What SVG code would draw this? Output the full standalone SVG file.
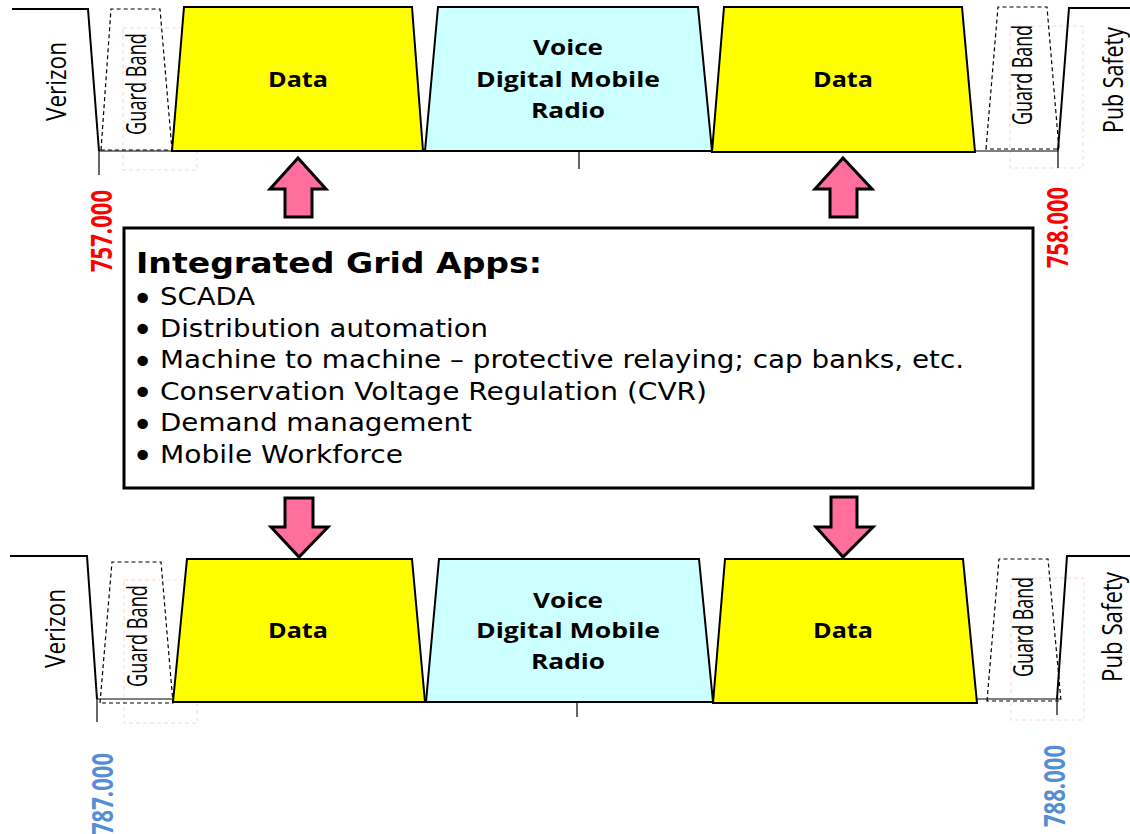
<svg xmlns="http://www.w3.org/2000/svg" width="1130" height="834" viewBox="0 0 1130 834">
<style>
.band{stroke:#000;stroke-width:2;stroke-linejoin:miter}
.data{fill:#ffff00}
.voice{fill:#ccffff}
.edge{fill:none;stroke:#000;stroke-width:2}
.thin{fill:none;stroke:#000;stroke-width:1.2}
.guard{fill:none;stroke:#000;stroke-width:1.2;stroke-dasharray:4 3}
.faint{fill:none;stroke:#fbd9c8;stroke-width:1;stroke-dasharray:4 3}
.lbl{font-family:"Open Sans","Liberation Sans",sans-serif;font-weight:bold;font-size:21px;fill:#000;text-anchor:middle}
.vert{font-family:"Open Sans","Liberation Sans",sans-serif;font-size:28px;fill:#000;text-anchor:middle}
.freq{font-family:"Open Sans","Liberation Sans",sans-serif;font-weight:bold;font-size:29px;text-anchor:middle}
.red{fill:#ff0000}
.blue{fill:#558ed5}
.arrow{fill:#ff6e9c;stroke:#000;stroke-width:3;stroke-linejoin:miter}
.title{font-family:"DejaVu Sans","Liberation Sans",sans-serif;font-weight:bold;font-size:29px;fill:#000}
.item{font-family:"DejaVu Sans","Liberation Sans",sans-serif;font-size:24.5px;fill:#000}
.bul{font-size:36px}
</style>

<g id="top-row">
  <g id="top-verizon">
    <polyline class="edge" points="12,9 88,9 99,151"/>
    <line class="thin" x1="99" y1="151" x2="99" y2="175"/>
    <text class="vert" transform="translate(66,81.5) rotate(-90)" textLength="79" lengthAdjust="spacingAndGlyphs">Verizon</text>
  </g>
  <g id="top-guard-left">
    <rect class="faint" x="123" y="28" width="74" height="142"/>
    <polygon class="guard" points="101,150 111,9 160,9 172,150"/>
    <line class="thin" x1="99" y1="151" x2="173" y2="151"/>
    <text class="vert" transform="translate(146,84) rotate(-90)" textLength="102" lengthAdjust="spacingAndGlyphs" style="font-size:27px">Guard Band</text>
  </g>
  <g id="top-data-1">
    <polygon class="band data" points="184,7 412,7 423,151 172,151"/>
    <text class="lbl" x="298" y="87" textLength="60" lengthAdjust="spacingAndGlyphs">Data</text>
  </g>
  <g id="top-voice">
    <polygon class="band voice" points="438,7 698,7 712,151 425,151"/>
    <line class="thin" x1="579" y1="151" x2="579" y2="169"/>
    <text class="lbl" x="568" y="55" textLength="70" lengthAdjust="spacingAndGlyphs">Voice</text>
    <text class="lbl" x="568" y="87" textLength="184" lengthAdjust="spacingAndGlyphs">Digital Mobile</text>
    <text class="lbl" x="568" y="118" textLength="74" lengthAdjust="spacingAndGlyphs">Radio</text>
  </g>
  <g id="top-data-2">
    <polygon class="band data" points="724,7 962,7 975,152 712,152"/>
    <text class="lbl" x="843" y="87" textLength="60" lengthAdjust="spacingAndGlyphs">Data</text>
  </g>
  <g id="top-guard-right">
    <rect class="faint" x="1010" y="26" width="73" height="142"/>
    <polygon class="guard" points="986,149 998,7 1047,7 1059,149"/>
    <line class="thin" x1="975" y1="151" x2="1058" y2="151"/>
    <text class="vert" transform="translate(1032,75) rotate(-90)" textLength="100" lengthAdjust="spacingAndGlyphs" style="font-size:27px">Guard Band</text>
  </g>
  <g id="top-pub-safety">
    <polyline class="edge" points="1058,150 1069,8 1130,8"/>
    <line class="thin" x1="1058" y1="150" x2="1058" y2="168"/>
    <text class="vert" transform="translate(1123,80) rotate(-90)" textLength="106" lengthAdjust="spacingAndGlyphs">Pub Safety</text>
  </g>
  <g id="top-freqs">
    <text class="freq red" transform="translate(112,231) rotate(-90)" textLength="82" lengthAdjust="spacingAndGlyphs">757.000</text>
    <text class="freq red" transform="translate(1068,227.5) rotate(-90)" textLength="81" lengthAdjust="spacingAndGlyphs">758.000</text>
  </g>
</g>

<g id="bottom-row">
  <g id="bottom-verizon">
    <polyline class="edge" points="10,556 87,556 97,699"/>
    <line class="thin" x1="97" y1="699" x2="97" y2="722"/>
    <text class="vert" transform="translate(65,628.5) rotate(-90)" textLength="79" lengthAdjust="spacingAndGlyphs">Verizon</text>
  </g>
  <g id="bottom-guard-left">
    <rect class="faint" x="124" y="580" width="73" height="143"/>
    <polygon class="guard" points="100,703 112,562 161,562 173,703"/>
    <line class="thin" x1="97" y1="699" x2="173" y2="699"/>
    <text class="vert" transform="translate(147,636) rotate(-90)" textLength="102" lengthAdjust="spacingAndGlyphs" style="font-size:27px">Guard Band</text>
  </g>
  <g id="bottom-data-1">
    <polygon class="band data" points="187,559 412,559 425,702 173,702"/>
    <text class="lbl" x="298" y="638" textLength="60" lengthAdjust="spacingAndGlyphs">Data</text>
  </g>
  <g id="bottom-voice">
    <polygon class="band voice" points="439,559 699,559 713,702 426,702"/>
    <line class="thin" x1="577" y1="702" x2="577" y2="717"/>
    <text class="lbl" x="568" y="608" textLength="70" lengthAdjust="spacingAndGlyphs">Voice</text>
    <text class="lbl" x="568" y="638" textLength="184" lengthAdjust="spacingAndGlyphs">Digital Mobile</text>
    <text class="lbl" x="568" y="669" textLength="74" lengthAdjust="spacingAndGlyphs">Radio</text>
  </g>
  <g id="bottom-data-2">
    <polygon class="band data" points="725,559 963,559 977,703 713,703"/>
    <text class="lbl" x="843" y="638" textLength="60" lengthAdjust="spacingAndGlyphs">Data</text>
  </g>
  <g id="bottom-guard-right">
    <rect class="faint" x="1011" y="578" width="73" height="142"/>
    <polygon class="guard" points="987,701 999,559 1048,559 1061,701"/>
    <line class="thin" x1="977" y1="699" x2="1060" y2="699"/>
    <text class="vert" transform="translate(1033,627) rotate(-90)" textLength="100" lengthAdjust="spacingAndGlyphs" style="font-size:27px">Guard Band</text>
  </g>
  <g id="bottom-pub-safety">
    <polyline class="edge" points="1057,699 1067,556 1130,556"/>
    <line class="thin" x1="1057" y1="699" x2="1057" y2="715"/>
    <text class="vert" transform="translate(1122,627) rotate(-90)" textLength="110" lengthAdjust="spacingAndGlyphs">Pub Safety</text>
  </g>
  <g id="bottom-freqs">
    <text class="freq blue" transform="translate(113,794) rotate(-90)" textLength="82" lengthAdjust="spacingAndGlyphs">787.000</text>
    <text class="freq blue" transform="translate(1065,786) rotate(-90)" textLength="82" lengthAdjust="spacingAndGlyphs">788.000</text>
  </g>
</g>

<g id="grid-apps">
  <rect x="124" y="228" width="909" height="260" fill="#fff" stroke="#000" stroke-width="3"/>
  <text class="title" x="136" y="273" textLength="406" lengthAdjust="spacingAndGlyphs">Integrated Grid Apps:</text>
  <text class="item" x="132" y="305"><tspan class="bul" dy="5.5">•</tspan><tspan x="160" dy="-5.5" textLength="95" lengthAdjust="spacingAndGlyphs">SCADA</tspan></text>
  <text class="item" x="132" y="336.5"><tspan class="bul" dy="5.5">•</tspan><tspan x="160" dy="-5.5" textLength="328" lengthAdjust="spacingAndGlyphs">Distribution automation</tspan></text>
  <text class="item" x="132" y="368"><tspan class="bul" dy="5.5">•</tspan><tspan x="160" dy="-5.5" textLength="804" lengthAdjust="spacingAndGlyphs">Machine to machine – protective relaying; cap banks, etc.</tspan></text>
  <text class="item" x="132" y="399.5"><tspan class="bul" dy="5.5">•</tspan><tspan x="160" dy="-5.5" textLength="547" lengthAdjust="spacingAndGlyphs">Conservation Voltage Regulation (CVR)</tspan></text>
  <text class="item" x="132" y="431"><tspan class="bul" dy="5.5">•</tspan><tspan x="160" dy="-5.5" textLength="312" lengthAdjust="spacingAndGlyphs">Demand management</tspan></text>
  <text class="item" x="132" y="462.5"><tspan class="bul" dy="5.5">•</tspan><tspan x="160" dy="-5.5" textLength="243" lengthAdjust="spacingAndGlyphs">Mobile Workforce</tspan></text>
</g>

<g id="connectors">
  <path class="arrow" d="M298,158 L326,189 L312,189 L312,217 L285,217 L285,189 L270,189 Z"/>
  <path class="arrow" d="M843,158 L872,189 L857,189 L857,217 L830,217 L830,189 L815,189 Z"/>
  <path class="arrow" d="M285,498 L313,498 L313,527 L328,527 L299,557 L271,527 L285,527 Z"/>
  <path class="arrow" d="M831,497 L857,497 L857,527 L873,527 L843,557 L816,527 L831,527 Z"/>
</g>
</svg>
